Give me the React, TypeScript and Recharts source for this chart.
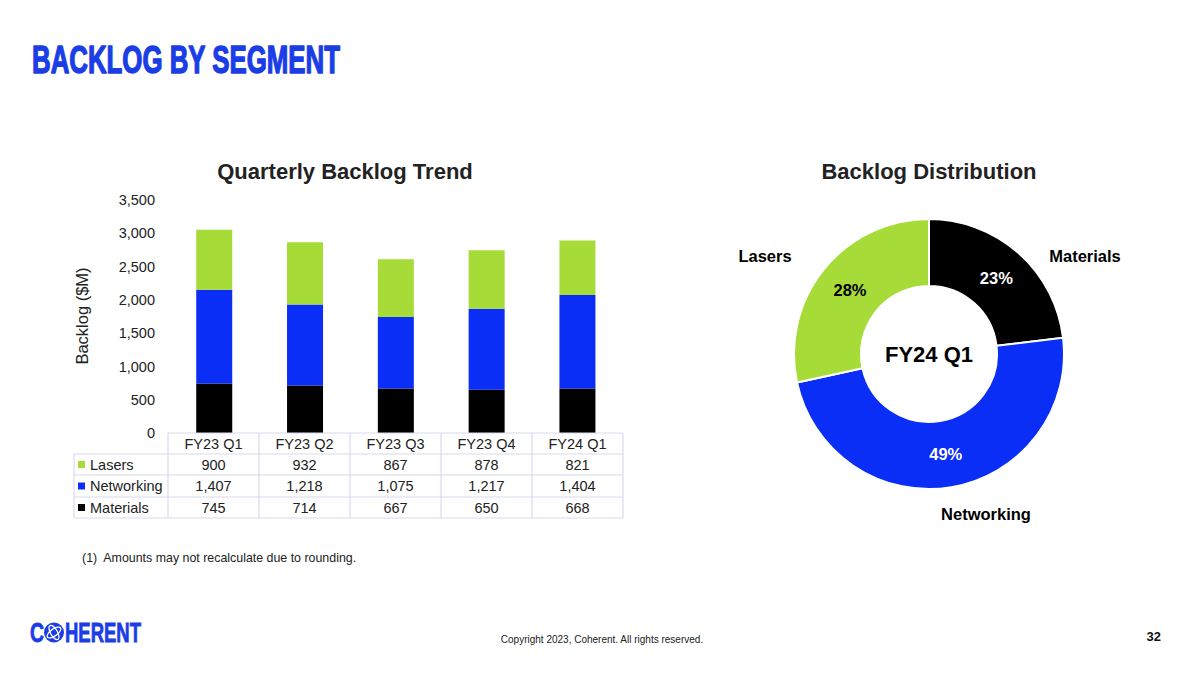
import React from 'react';
import { BarChart, Bar, XAxis, YAxis, PieChart, Pie, Cell } from 'recharts';

// ---------- data ----------
const quarters = ['FY23 Q1', 'FY23 Q2', 'FY23 Q3', 'FY23 Q4', 'FY24 Q1'];
const lasers = [900, 932, 867, 878, 821];
const networking = [1407, 1218, 1075, 1217, 1404];
const materials = [745, 714, 667, 650, 668];
const yTicks = [0, 500, 1000, 1500, 2000, 2500, 3000, 3500];
const tableRows = ['Lasers', 'Networking', 'Materials'];
const pieOrder = ['Materials', 'Networking', 'Lasers'];
const pieQuarterIndex = 4;

// ---------- styles ----------
const FONT = '"Liberation Sans", Arial, sans-serif';
const BLUE = '#0A2EF5';
const GREEN = '#A7DB38';
const BLACK = '#000000';
const BRAND = '#1B3DE6';
const GRID = '#D9D9F0';
const colorOf: Record<string, string> = { Lasers: GREEN, Networking: BLUE, Materials: BLACK };
const pctColor: Record<string, string> = { Lasers: '#000', Networking: '#fff', Materials: '#fff' };
const nameOffset: Record<string, [number, number]> = {
  Lasers: [-164, -98],
  Materials: [156, -98],
  Networking: [57, 160],
};
const valuesOf: Record<string, number[]> = { Lasers: lasers, Networking: networking, Materials: materials };

const barData = quarters.map((q, i) => ({
  q,
  Materials: materials[i],
  Networking: networking[i],
  Lasers: lasers[i],
}));

const pieData = pieOrder.map((name) => ({ name, value: valuesOf[name][pieQuarterIndex] }));

// table geometry
const TBL_LEFT = 74;
const COL0 = 168;
const COLW = 91;
const ROW_Y = [433, 454, 475, 497, 518];

const fmt = (v: number) => v.toLocaleString('en-US');

const renderPieLabel = (props: any) => {
  const { cx, cy, midAngle, innerRadius, outerRadius, percent, index } = props;
  const name = pieOrder[index];
  const RAD = Math.PI / 180;
  const r = (innerRadius + outerRadius) / 2;
  const x = cx + r * Math.cos(-midAngle * RAD);
  const y = cy + r * Math.sin(-midAngle * RAD);
  const [ox, oy] = nameOffset[name];
  return (
    <g>
      <text x={x} y={y} fill={pctColor[name]} textAnchor="middle" dominantBaseline="central"
        fontFamily={FONT} fontWeight="bold" fontSize={16.5}>
        {`${Math.round(percent * 100)}%`}
      </text>
      <text x={cx + ox} y={cy + oy} fill="#000" textAnchor="middle" dominantBaseline="central"
        fontFamily={FONT} fontWeight="bold" fontSize={16.5}>
        {name}
      </text>
    </g>
  );
};

export default function App() {
  return (
    <div style={{ position: 'absolute', left: 0, top: 0, width: 1200, height: 675, background: '#fff', overflow: 'hidden' }}>
      {/* Bar chart */}
      <div style={{ position: 'absolute', left: 0, top: 0 }}>
        <BarChart width={700} height={460} data={barData}
          margin={{ top: 200, right: 77, bottom: 27, left: 99 }} barCategoryGap="30%">
          <XAxis dataKey="q" hide />
          <YAxis width={70} domain={[0, 3500]} ticks={yTicks} interval={0}
            axisLine={false} tickLine={false} tickSize={6} tickMargin={8}
            tickFormatter={fmt}
            tick={{ fontFamily: FONT, fontSize: 14.5, fill: '#222' }} />
          <Bar dataKey="Materials" stackId="a" fill={BLACK} isAnimationActive={false} />
          <Bar dataKey="Networking" stackId="a" fill={BLUE} isAnimationActive={false} />
          <Bar dataKey="Lasers" stackId="a" fill={GREEN} isAnimationActive={false} />
        </BarChart>
      </div>

      {/* Donut */}
      <div style={{ position: 'absolute', left: 729, top: 154 }}>
        <PieChart width={400} height={400} margin={{ top: 0, right: 0, bottom: 0, left: 0 }}>
          <Pie data={pieData} dataKey="value" nameKey="name" cx={200} cy={200}
            innerRadius={68} outerRadius={135} startAngle={90} endAngle={-270}
            stroke="#fff" strokeWidth={2} label={renderPieLabel} labelLine={false}
            isAnimationActive={false}>
            {pieData.map((d) => (
              <Cell key={d.name} fill={colorOf[d.name]} />
            ))}
          </Pie>
        </PieChart>
      </div>

      {/* Overlay: titles, table, footer */}
      <svg width={1200} height={675} style={{ position: 'absolute', left: 0, top: 0, pointerEvents: 'none' }}>
        <text x={32} y={73} fontFamily={FONT} fontWeight="bold" fontSize={38} fill={BRAND}
          stroke={BRAND} strokeWidth={1.4} strokeLinejoin="round"
          textLength={308} lengthAdjust="spacingAndGlyphs">BACKLOG BY SEGMENT</text>

        <text x={345} y={179} textAnchor="middle" fontFamily={FONT} fontWeight="bold" fontSize={22} fill="#222">
          Quarterly Backlog Trend
        </text>
        <text x={929} y={179} textAnchor="middle" fontFamily={FONT} fontWeight="bold" fontSize={22} fill="#222">
          Backlog Distribution
        </text>

        <text transform="translate(88,316) rotate(-90)" textAnchor="middle" fontFamily={FONT} fontSize={16.5} fill="#222">
          Backlog ($M)
        </text>

        {/* table grid */}
        <line x1={COL0} x2={COL0 + COLW * quarters.length} y1={ROW_Y[0]} y2={ROW_Y[0]} stroke={GRID} strokeWidth={1.2} />
        {ROW_Y.slice(1).map((y) => (
          <line key={y} x1={TBL_LEFT} x2={COL0 + COLW * quarters.length} y1={y} y2={y} stroke={GRID} strokeWidth={1.2} />
        ))}
        <line x1={TBL_LEFT} x2={TBL_LEFT} y1={ROW_Y[1]} y2={ROW_Y[4]} stroke={GRID} strokeWidth={1.2} />
        {quarters.map((_, i) => (
          <line key={i} x1={COL0 + COLW * i} x2={COL0 + COLW * i} y1={ROW_Y[0]} y2={ROW_Y[4]} stroke={GRID} strokeWidth={1.2} />
        ))}
        <line x1={COL0 + COLW * quarters.length} x2={COL0 + COLW * quarters.length} y1={ROW_Y[0]} y2={ROW_Y[4]} stroke={GRID} strokeWidth={1.2} />

        {quarters.map((q, i) => (
          <text key={q} x={COL0 + COLW * (i + 0.5)} y={(ROW_Y[0] + ROW_Y[1]) / 2 + 5} textAnchor="middle"
            fontFamily={FONT} fontSize={14.5} fill="#222">{q}</text>
        ))}
        {tableRows.map((name, r) => {
          const cy = (ROW_Y[r + 1] + ROW_Y[r + 2]) / 2;
          return (
            <g key={name}>
              <rect x={78} y={cy - 3.5} width={7} height={7} fill={colorOf[name]} />
              <text x={90} y={cy + 5} fontFamily={FONT} fontSize={14.5} fill="#222">{name}</text>
              {valuesOf[name].map((v, i) => (
                <text key={i} x={COL0 + COLW * (i + 0.5)} y={cy + 5} textAnchor="middle"
                  fontFamily={FONT} fontSize={14.5} fill="#222">{fmt(v)}</text>
              ))}
            </g>
          );
        })}

        <text x={929} y={354} textAnchor="middle" dominantBaseline="central" fontFamily={FONT}
          fontWeight="bold" fontSize={22} fill="#000">{quarters[pieQuarterIndex]}</text>

        <text x={82} y={562} fontFamily={FONT} fontSize={12.4} fill="#222" xmlSpace="preserve">
          (1)  Amounts may not recalculate due to rounding.
        </text>

        <text x={602} y={643} textAnchor="middle" fontFamily={FONT} fontSize={10} fill="#222">
          Copyright 2023, Coherent. All rights reserved.
        </text>
        <text x={1161} y={641} textAnchor="end" fontFamily={FONT} fontWeight="bold" fontSize={13} fill="#111">32</text>

        {/* logo */}
        <text x={30} y={642} fontFamily={FONT} fontWeight="bold" fontSize={27} fill={BRAND}
          stroke={BRAND} strokeWidth={0.8}
          textLength={14} lengthAdjust="spacingAndGlyphs">C</text>
        <circle cx={54} cy={632.5} r={10} fill={BRAND} />
        <ellipse cx={54} cy={632.5} rx={8} ry={3.5} fill="none" stroke="#fff" strokeWidth={1.3} transform="rotate(-35 54 632.5)" />
        <ellipse cx={54} cy={632.5} rx={8} ry={3.5} fill="none" stroke="#fff" strokeWidth={1.3} transform="rotate(60 54 632.5)" />
        <text x={65} y={642} fontFamily={FONT} fontWeight="bold" fontSize={27} fill={BRAND}
          stroke={BRAND} strokeWidth={0.8}
          textLength={76} lengthAdjust="spacingAndGlyphs">HERENT</text>
      </svg>
    </div>
  );
}
